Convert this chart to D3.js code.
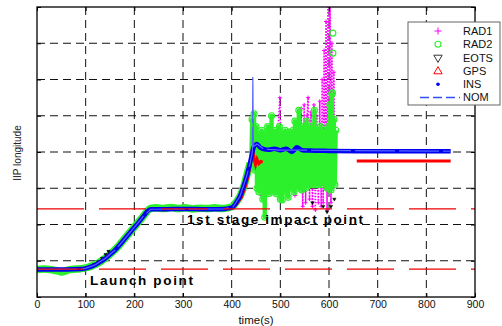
<!DOCTYPE html>
<html>
<head>
<meta charset="utf-8">
<script src="https://cdn.jsdelivr.net/npm/d3@7"></script>
<style>
  body { margin: 0; background: #fff; }
  svg { font-family: "Liberation Sans", Arial, sans-serif; }
</style>
</head>
<body>
<svg width="502" height="326"></svg>
<script>
// ---- data ----
const xTicks = [0, 100, 200, 300, 400, 500, 600, 700, 800, 900];
const yTicks = [0, 1, 2, 3, 4, 5, 6, 7, 8];
const refLevels = [0.77, 2.43];   // launch point / 1st stage impact point

// INS (thick blue) trajectory
const insT = [0, 60, 90, 100, 110, 120, 130, 140, 150, 160, 170, 180, 190, 200, 210, 220, 228, 234, 260, 300, 350, 385,
  395, 403, 410, 417, 423, 430, 436, 441, 446, 452, 458, 466, 476, 488, 500, 512, 524, 534, 545, 560, 600, 700, 850];
const insV = [0.76, 0.76, 0.77, 0.79, 0.83, 0.89, 0.97, 1.06, 1.17, 1.29, 1.44, 1.6, 1.76, 1.92, 2.08, 2.25, 2.38, 2.42, 2.42, 2.43, 2.42, 2.43,
  2.45, 2.49, 2.62, 2.78, 3.0, 3.3, 3.6, 3.9, 4.15, 4.22, 4.13, 4.08, 4.06, 4.09, 4.05, 4.09, 4.0, 4.13, 4.05, 4.04, 4.03, 4.02, 4.02];

// NOM (thin dashed blue), with the spike
const nomT = [0, 90, 100, 120, 140, 160, 180, 200, 220, 234, 385, 403, 417, 430, 438, 442.5, 443.5, 444.5, 452, 466, 500, 545, 850];
const nomV = [0.76, 0.77, 0.79, 0.89, 1.06, 1.29, 1.6, 1.92, 2.25, 2.42, 2.43, 2.49, 2.78, 3.3, 3.7, 4.0, 6.07, 4.15, 4.22, 4.08, 4.05, 4.05, 4.02];

// RAD2 (green circles): tracking part
const rad2TrackT = [0, 15, 30, 45, 52, 65, 80, 95, 105, 115, 125, 135, 145, 155, 165, 175, 185, 195, 205, 215, 225, 232,
  245, 260, 275, 290, 305, 320, 335, 350, 365, 380, 392, 402, 410, 418, 425, 432, 438];
const rad2TrackV = [0.76, 0.77, 0.75, 0.71, 0.69, 0.75, 0.77, 0.79, 0.82, 0.87, 0.93, 1.02, 1.12, 1.24, 1.37, 1.53, 1.69, 1.85, 2.01, 2.17, 2.34, 2.44,
  2.46, 2.44, 2.47, 2.44, 2.46, 2.43, 2.45, 2.44, 2.46, 2.44, 2.46, 2.5, 2.63, 2.8, 3.05, 3.4, 3.7];
// RAD2: noisy part after 1st stage
const rad2NoiseT = [440, 442, 444, 446, 448, 450, 452, 454, 456, 458, 460, 462, 464, 466, 468, 470, 472, 474, 476, 478,
  480, 482, 484, 486, 488, 490, 492, 494, 496, 498, 500, 502, 504, 506, 508, 510, 512, 514, 516, 518,
  520, 522, 524, 526, 528, 530, 532, 534, 536, 538, 540, 542, 544, 546, 548, 550, 552, 554, 556, 558,
  560, 562, 564, 566, 568, 570, 572, 574, 576, 578, 580, 582, 584, 586, 588, 590, 592, 594, 596, 598,
  600, 602, 604, 606, 608, 610, 612, 614];
const rad2NoiseV = [3.6, 4.9, 3.7, 5.05, 3.5, 4.7, 3.0, 4.5, 2.9, 4.4, 3.2, 4.6, 2.7, 4.3, 2.2, 4.5, 3.0, 4.7, 2.85, 4.4,
  3.1, 5.0, 2.9, 4.5, 3.3, 4.6, 2.85, 4.3, 3.0, 4.7, 2.7, 4.5, 2.68, 4.4, 2.9, 4.6, 3.1, 4.3, 2.75, 4.55,
  3.0, 4.4, 3.2, 4.6, 2.9, 4.85, 3.1, 4.5, 3.0, 5.15, 3.2, 4.4, 2.95, 4.7, 3.3, 4.5, 3.0, 4.85, 3.2, 4.4,
  3.1, 4.7, 3.3, 4.5, 3.1, 5.15, 3.4, 4.3, 3.1, 4.6, 3.3, 4.7, 3.1, 4.4, 3.2, 4.6, 3.15, 4.5, 3.0, 4.7,
  3.1, 5.3, 2.95, 5.6, 3.2, 4.9, 3.1, 4.6];
const rad2OutT = [607, 608, 608];
const rad2OutV = [5.63, 6.73, 7.28];

// RAD1 (magenta +)
const rad1T = [445, 450, 455, 458, 461, 465, 470, 475, 480, 485, 490, 495, 499, 503, 508, 512, 516, 520, 525, 530, 535, 540,
  543, 546, 549, 552, 555, 557, 560, 563, 566, 569, 572, 575, 578, 581, 584,
  586, 588, 590, 592, 594, 596, 598, 600, 602, 604, 606, 608, 610, 612];
const rad1V = [4.2, 3.9, 4.3, 3.6, 2.8, 4.1, 3.5, 4.4, 3.3, 4.5, 3.0, 4.6, 5.5, 3.2, 4.4, 2.9, 4.5, 3.1, 4.3, 2.8, 4.7, 3.0,
  5.2, 2.5, 5.3, 2.6, 5.0, 5.5, 2.7, 5.1, 2.5, 5.3, 2.4, 5.0, 2.6, 5.4, 2.5,
  6.0, 2.6, 6.8, 3.0, 7.6, 2.4, 8.5, 3.2, 8.6, 2.6, 7.0, 3.0, 6.2, 3.4];

// EOTS (black triangles)
const eotsT = [118, 126, 134, 141, 147, 566, 588, 596, 604, 611];
const eotsV = [0.9, 0.97, 1.07, 1.17, 1.26, 2.6, 2.5, 2.35, 2.5, 2.7];

// GPS (red), null = gap
const gpsT = [400, 410, 420, 428, 434, 439, 443, 446, 449, 452, 456, 460, 464, 500, 657, 850];
const gpsV = [2.44, 2.56, 2.75, 3.05, 3.35, 3.7, 4.15, 3.8, 3.65, 3.8, 3.68, 3.74, 3.72, null, 3.75, 3.75];

const legendNames = ['RAD1', 'RAD2', 'EOTS', 'GPS', 'INS', 'NOM'];

// ---- chart ----
const svg = d3.select('svg'),
  margin = {top: 7, right: 27, bottom: 29, left: 37},
  width = +svg.attr('width') - margin.left - margin.right,
  height = +svg.attr('height') - margin.top - margin.bottom;

const x = d3.scaleLinear().domain([0, 900]).range([0, width]),
  y = d3.scaleLinear().domain([0, 8]).range([height, 0]);

const g = svg.append('g')
  .attr('transform', 'translate(' + margin.left + ',' + margin.top + ')');

svg.append('clipPath').attr('id', 'clip')
  .append('rect').attr('width', width).attr('height', height);

// grid
g.append('g').selectAll('line')
  .data(xTicks.slice(1, -1))
  .enter().append('line')
  .attr('x1', d => x(d)).attr('x2', d => x(d))
  .attr('y1', 0).attr('y2', height)
  .attr('stroke', '#111').attr('stroke-width', 1).attr('stroke-dasharray', '8,5');
g.append('g').selectAll('line')
  .data(yTicks.slice(1, -1))
  .enter().append('line')
  .attr('y1', d => y(d)).attr('y2', d => y(d))
  .attr('x1', 0).attr('x2', width)
  .attr('stroke', '#111').attr('stroke-width', 1).attr('stroke-dasharray', '8,5');

const plot = g.append('g').attr('clip-path', 'url(#clip)');
const zip = (t, v) => t.map((d, i) => [d, v[i]]);
const line = d3.line().defined(d => d[1] != null).x(d => x(d[0])).y(d => y(d[1]));
const smooth = d3.line().curve(d3.curveMonotoneX).x(d => x(d[0])).y(d => y(d[1]));

const green = '#2cf02c', magenta = '#f0f';

// RAD1 (under RAD2, shows where it leaves the green band)
const rad1 = zip(rad1T, rad1V);
plot.append('path').datum(rad1)
  .attr('d', line).attr('fill', 'none').attr('stroke', magenta)
  .attr('stroke-width', 1.6).attr('stroke-dasharray', '1.5,1.5');
plot.selectAll('.rad1')
  .data(rad1)
  .enter().append('path')
  .attr('class', 'rad1')
  .attr('transform', d => 'translate(' + x(d[0]) + ',' + y(d[1]) + ')')
  .attr('d', 'M-2,0H2M0,-2V2')
  .attr('stroke', magenta).attr('stroke-width', 1);

// RAD2
plot.append('path').datum(zip(rad2TrackT, rad2TrackV))
  .attr('d', smooth).attr('fill', 'none').attr('stroke', green).attr('stroke-width', 7.5);
const noise = zip(rad2NoiseT, rad2NoiseV);
plot.append('path').datum(noise)
  .attr('d', line).attr('fill', 'none').attr('stroke', green).attr('stroke-width', 4.2)
  .attr('stroke-linejoin', 'round');
plot.selectAll('.rad2')
  .data(noise.concat(zip(rad2OutT, rad2OutV)))
  .enter().append('circle')
  .attr('class', 'rad2')
  .attr('cx', d => x(d[0])).attr('cy', d => y(d[1])).attr('r', 3)
  .attr('fill', 'none').attr('stroke', green).attr('stroke-width', 1.2);

// EOTS
plot.selectAll('.eots')
  .data(zip(eotsT, eotsV))
  .enter().append('path')
  .attr('class', 'eots')
  .attr('transform', d => 'translate(' + x(d[0]) + ',' + y(d[1]) + ') rotate(180)')
  .attr('d', d3.symbol(d3.symbolTriangle, 5))
  .attr('fill', '#000').attr('stroke', '#000').attr('stroke-width', 0.5);

// GPS
plot.append('path').datum(zip(gpsT, gpsV))
  .attr('d', line).attr('fill', 'none').attr('stroke', '#f00').attr('stroke-width', 3);

// INS
plot.append('path').datum(zip(insT, insV))
  .attr('d', smooth).attr('fill', 'none').attr('stroke', '#0000f0').attr('stroke-width', 4.5);

// NOM
plot.append('path').datum(zip(nomT, nomV))
  .attr('d', line).attr('fill', 'none').attr('stroke', '#5566ff')
  .attr('stroke-width', 1.2).attr('stroke-dasharray', '40,4');

// red reference levels
g.append('g').selectAll('line')
  .data(refLevels)
  .enter().append('line')
  .attr('x1', 0).attr('x2', width)
  .attr('y1', d => y(d)).attr('y2', d => y(d))
  .attr('stroke', '#ee0000').attr('stroke-width', 1.2).attr('stroke-dasharray', '47,15');

// annotations
g.append('text').attr('x', 53).attr('y', 278)
  .attr('font-size', 13.5).attr('font-weight', 'bold')
  .attr('textLength', 103).attr('lengthAdjust', 'spacing')
  .text('Launch point');
g.append('text').attr('x', 150).attr('y', 216.5)
  .attr('font-size', 13.5).attr('font-weight', 'bold')
  .attr('textLength', 176).attr('lengthAdjust', 'spacing')
  .text('1st stage impact point');

// axes
g.append('g')
  .attr('transform', 'translate(0,' + height + ')')
  .call(d3.axisBottom(x).tickValues(xTicks).tickSize(-4).tickPadding(4))
  .call(a => a.select('.domain').remove())
  .call(a => a.selectAll('text').attr('font-size', 10.5).attr('fill', '#111')
    .attr('font-family', '"Liberation Sans", Arial, sans-serif'));
g.append('g')
  .call(d3.axisTop(x).tickValues(xTicks).tickSize(-4).tickFormat(''))
  .call(a => a.select('.domain').remove());
g.append('g')
  .call(d3.axisLeft(y).tickValues(yTicks).tickSize(-4).tickFormat(''))
  .call(a => a.select('.domain').remove());
g.append('g')
  .attr('transform', 'translate(' + width + ',0)')
  .call(d3.axisRight(y).tickValues(yTicks).tickSize(-4).tickFormat(''))
  .call(a => a.select('.domain').remove());

g.append('rect')
  .attr('width', width).attr('height', height)
  .attr('fill', 'none').attr('stroke', '#000').attr('stroke-width', 1.3);

g.append('text')
  .attr('x', width / 2).attr('y', height + 27)
  .attr('text-anchor', 'middle').attr('font-size', 11.5).attr('fill', '#111')
  .text('time(s)');
svg.append('text')
  .attr('transform', 'translate(21,' + 153 + ') rotate(-90)')
  .attr('text-anchor', 'middle').attr('font-size', 10).attr('fill', '#222')
  .text('IIP longitude');

// legend
const lg = svg.append('g').attr('transform', 'translate(408,22)');
lg.append('rect').attr('width', 92).attr('height', 83)
  .attr('fill', '#fff').attr('stroke', '#555').attr('stroke-width', 0.9);
const row = i => 9 + i * 13.3;
lg.selectAll('text')
  .data(legendNames)
  .enter().append('text')
  .attr('x', 55).attr('y', (d, i) => row(i)).attr('dy', '0.36em')
  .attr('font-size', 11).attr('fill', '#111')
  .text(d => d);
lg.append('path').attr('transform', 'translate(30,' + row(0) + ')')
  .attr('d', 'M-3.5,0H3.5M0,-3.5V3.5').attr('stroke', magenta).attr('stroke-width', 1);
lg.append('circle').attr('cx', 30).attr('cy', row(1)).attr('r', 3)
  .attr('fill', 'none').attr('stroke', green).attr('stroke-width', 1.1);
lg.append('path').attr('transform', 'translate(30,' + row(2) + ') rotate(180)')
  .attr('d', d3.symbol(d3.symbolTriangle, 30)).attr('fill', 'none').attr('stroke', '#333').attr('stroke-width', 1);
lg.append('path').attr('transform', 'translate(30,' + (row(3) + 0.5) + ')')
  .attr('d', d3.symbol(d3.symbolTriangle, 30)).attr('fill', 'none').attr('stroke', '#f00').attr('stroke-width', 1);
lg.append('circle').attr('cx', 30).attr('cy', row(4)).attr('r', 1.8).attr('fill', '#00f');
lg.append('line').attr('class', 'nom-key')
  .attr('x1', 12).attr('x2', 52).attr('y1', row(5)).attr('y2', row(5))
  .style('stroke', '#3050ff').style('stroke-width', 1.4).style('stroke-dasharray', '9,4');
</script>
</body>
</html>
